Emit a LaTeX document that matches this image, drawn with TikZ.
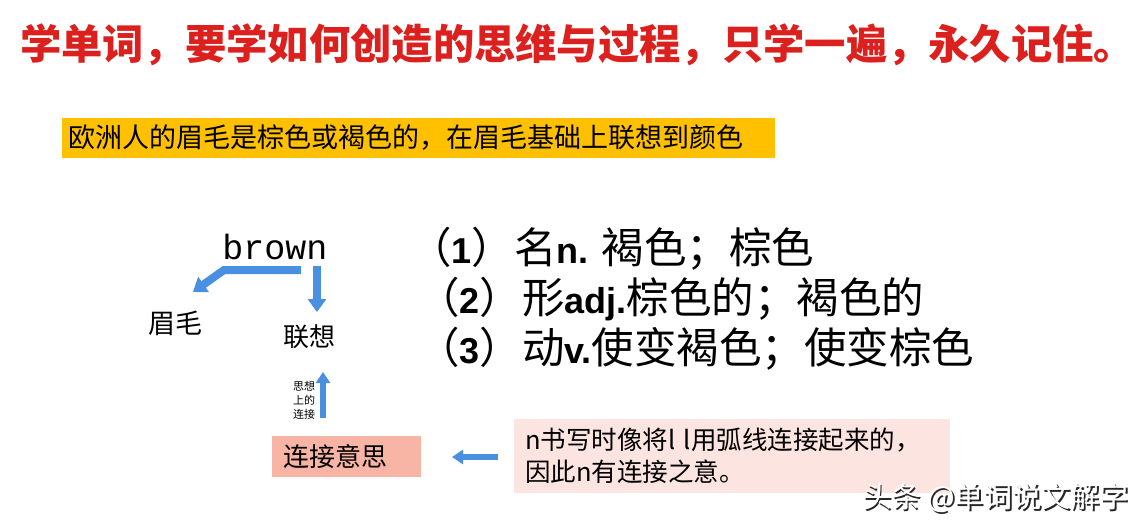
\documentclass[tikz,border=0pt]{standalone}
\usepackage{fontspec}
\setmainfont{Liberation Sans}
\newfontfamily\cjk{Noto Sans CJK SC}
\newfontfamily\monof{Liberation Mono}
\newfontfamily\latf{Liberation Sans}
\usetikzlibrary{arrows.meta}
\definecolor{titlered}{RGB}{220,32,30}
\definecolor{barorange}{RGB}{255,192,0}
\definecolor{arrowblue}{RGB}{74,144,226}
\definecolor{salmon}{RGB}{248,180,164}
\definecolor{palepink}{RGB}{252,228,224}
\newcommand{\fsz}[1]{\fontsize{#1}{#1}\selectfont}
\newcommand{\lb}[1]{{\latf\bfseries\fsz{36}#1}}
\begin{document}
\begin{tikzpicture}[x=1pt,y=-1pt,
  every node/.style={inner sep=0pt, outer sep=0pt},
  bigarrow/.style={draw=arrowblue, line width=8pt, -{Triangle[width=18pt,length=13pt]}},
  smallarrow/.style={draw=arrowblue, line width=6.5pt, -{Triangle[width=14pt,length=11pt]}},
  listline/.style={anchor=west, font=\cjk\fsz{42.5}, text=black}]
\useasboundingbox[fill=white] (0,0) rectangle (1148,522);

% title
\node[anchor=west, font=\cjk\bfseries\fsz{41.3}, text=titlered] (title) at (20,45)
  {学单词，要学如何创造的思维与过程，只学一遍，永久记住。};

% yellow bar
\node[anchor=north west, fill=barorange, minimum width=713pt, minimum height=40pt,
      text width=701pt, inner xsep=6pt, align=left, font=\cjk\fsz{27}] (bar) at (62,118)
  {欧洲人的眉毛是棕色或褐色的，在眉毛基础上联想到颜色};

% brown and its branches
\node[font=\monof\fsz{35}] (brown) at (275,247) {brown};
\node[font=\cjk\fsz{27}] (brow) at (175,323) {眉毛};
\node[font=\cjk\fsz{26}] (assoc) at (309,337) {联想};

\coordinate (l0) at (301,270);
\coordinate (l1) at (224,270);
\coordinate (l2) at (193,292);
\draw[bigarrow, line join=miter] (l0) -- (l1) -- (l2);

\coordinate (d0) at (317,266);
\coordinate (d1) at (317,312);
\draw[bigarrow] (d0) -- (d1);

% up arrow with small text
\coordinate (u0) at (323,418);
\coordinate (u1) at (323,372);
\draw[smallarrow] (u0) -- (u1);
\node[align=center, font=\cjk\fontsize{11}{14}\selectfont] (small) at (304,400) {思想\\上的\\连接};

% salmon box
\node[anchor=north west, fill=salmon, minimum width=149pt, minimum height=41pt,
      text width=127pt, inner xsep=11pt, align=left, font=\cjk\fsz{26}] (link) at (272,436)
  {连接意思};

% left arrow
\coordinate (a0) at (498,457);
\coordinate (a1) at (452,457);
\draw[smallarrow] (a0) -- (a1);

% pale pink box
\node[anchor=north west, fill=palepink, minimum width=436pt, minimum height=74pt,
      text width=414pt, inner xsep=11pt, align=left,
      font=\cjk\fontsize{25.5}{26}\selectfont] (note) at (514,419)
  {\vspace*{6pt}n书写时像将l l用弧线连接起来的，\\因此n有连接之意。};

% meanings
\node[listline] (m1) at (409,249) {（\lb{1}）名\lb{n. }褐色；棕色};
\node[listline] (m2) at (417,299) {（\lb{2}）形\lb{adj.}棕色的；褐色的};
\node[listline] (m3) at (417,349) {（\lb{3}）动\lb{v.}使变褐色；使变棕色};

% watermark
\node[anchor=west, font=\cjk\fsz{29}, text=black!85] (wmshadow) at (864.5,499.5) {头条 @单词说文解字};
\node[anchor=west, font=\cjk\fsz{29}, text=white] (wm) at (863,498) {头条 @单词说文解字};
\end{tikzpicture}
\end{document}
